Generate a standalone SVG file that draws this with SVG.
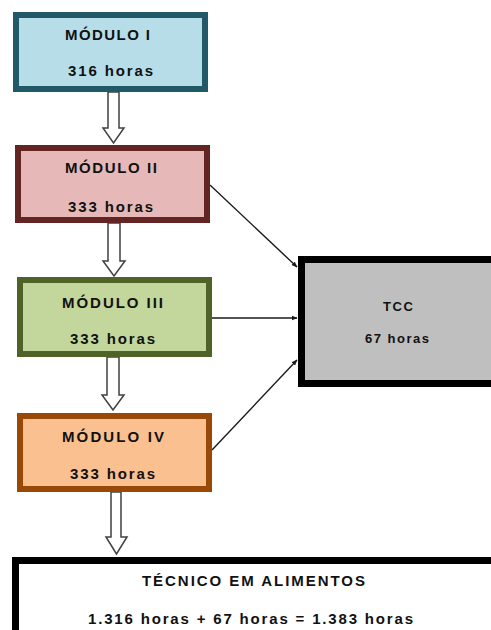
<svg xmlns="http://www.w3.org/2000/svg" width="491" height="630" viewBox="0 0 491 630">
<defs>
<style>
.t{font-family:"Liberation Sans",Arial,sans-serif;font-weight:bold;font-size:15px;fill:#111111;text-anchor:middle}
.sm{font-size:13px}
.hollow{fill:#ffffff;stroke:#404040;stroke-width:1.5;stroke-linejoin:miter}
.con{stroke:#1a1a1a;stroke-width:1.4;fill:none;marker-end:url(#ah)}
</style>
<marker id="ah" viewBox="0 0 10 10" refX="9" refY="5" markerWidth="6" markerHeight="6" markerUnits="userSpaceOnUse" orient="auto">
<path d="M0,1 L10,5 L0,9 z" fill="#1a1a1a"/>
</marker>
</defs>
<rect width="491" height="630" fill="#ffffff"/>

<g id="connectors">
<path class="hollow" d="M108,92 H119 V128 H124 L113.5,143 L103,128 H108 Z"/>
<path class="hollow" d="M108,223 H120 V261 H125 L114,276 L103,261 H108 Z"/>
<path class="hollow" d="M107,357 H119 V395 H124 L113,410 L102,395 H107 Z"/>
<path class="hollow" d="M111,492 H121 V537 H127 L116.5,554 L106,537 H111 Z"/>
<line class="con" x1="210" y1="185" x2="297" y2="267"/>
<line class="con" x1="212" y1="318" x2="297" y2="318"/>
<line class="con" x1="212" y1="450" x2="297" y2="360"/>
</g>

<g id="modulo1">
<rect x="16" y="15" width="189" height="74" fill="#b7dee8" stroke="#215968" stroke-width="6"/>
<text class="t" x="107.5" y="40" textLength="85" lengthAdjust="spacing">MÓDULO I</text>
<text class="t" x="110.5" y="76" textLength="85" lengthAdjust="spacing">316 horas</text>
</g>

<g id="modulo2">
<rect x="18" y="148" width="189" height="72" fill="#e6b9b8" stroke="#632523" stroke-width="6"/>
<text class="t" x="111" y="173" textLength="92" lengthAdjust="spacing">MÓDULO II</text>
<text class="t" x="110.5" y="212" textLength="85" lengthAdjust="spacing">333 horas</text>
</g>

<g id="modulo3">
<rect x="20" y="280" width="189" height="74" fill="#c3d69b" stroke="#4f6228" stroke-width="6"/>
<text class="t" x="112.5" y="308" textLength="101" lengthAdjust="spacing">MÓDULO III</text>
<text class="t" x="112.5" y="344" textLength="85" lengthAdjust="spacing">333 horas</text>
</g>

<g id="modulo4">
<rect x="20" y="416" width="189" height="73" fill="#fac090" stroke="#984807" stroke-width="6"/>
<text class="t" x="113" y="442" textLength="102" lengthAdjust="spacing">MÓDULO IV</text>
<text class="t" x="112.5" y="479" textLength="85" lengthAdjust="spacing">333 horas</text>
</g>

<g id="tcc">
<rect x="301.5" y="259.5" width="200" height="124" fill="#bfbfbf" stroke="#000000" stroke-width="7"/>
<text class="t sm" x="398" y="311" textLength="30" lengthAdjust="spacing">TCC</text>
<text class="t sm" x="397" y="343" textLength="64" lengthAdjust="spacing">67 horas</text>
</g>

<g id="tecnico">
<rect x="15.5" y="560.5" width="490" height="80" fill="#ffffff" stroke="#000000" stroke-width="7"/>
<text class="t" x="253.5" y="586" textLength="223" lengthAdjust="spacing">TÉCNICO EM ALIMENTOS</text>
<text class="t" x="250.5" y="624" textLength="325" lengthAdjust="spacing">1.316 horas + 67 horas = 1.383 horas</text>
</g>
</svg>
